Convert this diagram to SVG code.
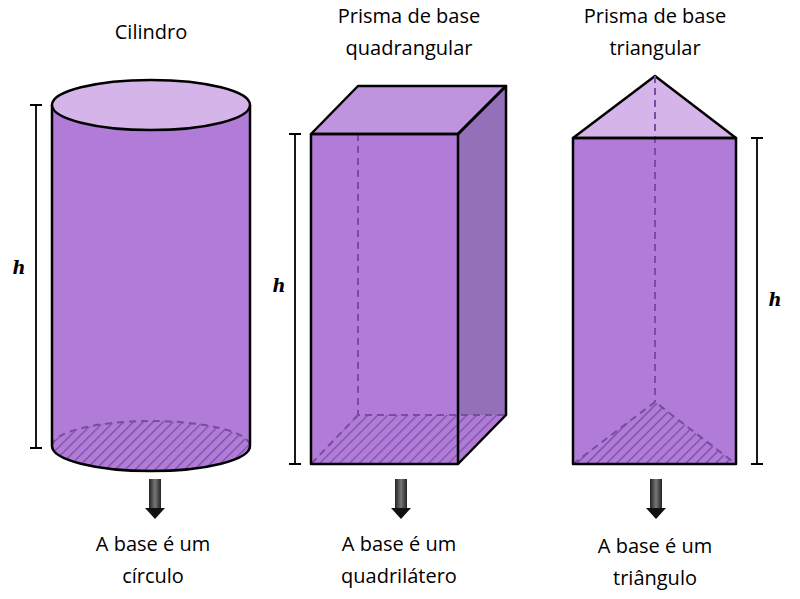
<svg xmlns="http://www.w3.org/2000/svg" width="800" height="599" viewBox="0 0 800 599">
<defs>
<pattern id="hatch" width="7" height="7" patternUnits="userSpaceOnUse" patternTransform="rotate(45)">
<rect width="7" height="7" fill="#b07cd8"/><line x1="0" y1="0" x2="0" y2="7" stroke="#7a4ba0" stroke-width="2.5"/>
</pattern>
<linearGradient id="ag" x1="0" x2="1"><stop offset="0" stop-color="#222"/><stop offset="0.5" stop-color="#777"/><stop offset="1" stop-color="#222"/></linearGradient>
<g id="arrow"><rect x="-6" y="0" width="12" height="30" fill="url(#ag)"/><path d="M-10,29 L10,29 L0,40 Z" fill="#111"/></g>
</defs>
<style>
.t{font-family:"Open Sans","Liberation Sans",sans-serif;font-size:20px;fill:#000;text-anchor:middle}
.h{font-family:"DejaVu Serif","Liberation Serif",serif;font-style:italic;font-weight:bold;font-size:18px;text-anchor:middle}
.e{stroke:#000;stroke-width:2.5;stroke-linejoin:round}
.d{stroke:#7a4ba0;stroke-width:2;stroke-dasharray:7,5;fill:none}
.dim{stroke:#000;stroke-width:1.8;fill:none}
</style>
<rect width="800" height="599" fill="#fff"/>
<g id="cilindro">
<text class="t" x="151" y="39">Cilindro</text>
<rect x="52" y="105" width="198" height="341" fill="#b07cd8"/>
<ellipse cx="151" cy="446" rx="99" ry="25" fill="url(#hatch)"/>
<path d="M52,446 A99,25 0 0,1 250,446" class="d"/>
<path d="M52,105 L52,446 A99,25 0 0,0 250,446 L250,105" class="e" fill="none"/>
<ellipse cx="151" cy="105" rx="99" ry="25" fill="#d5b5e9" class="e"/>
<path d="M30,105 H42 M36,105 V448 M30,448 H42" class="dim"/>
<text class="h" x="19" y="274">h</text>
<use href="#arrow" x="155" y="479"/>
<text class="t" x="153" y="551">A base é um</text>
<text class="t" x="153" y="583">círculo</text>
</g>
<g id="prisma-quadrangular">
<text class="t" x="409" y="23">Prisma de base</text>
<text class="t" x="409" y="55">quadrangular</text>
<rect x="311" y="134" width="147" height="330" fill="#b07cd8"/>
<polygon points="458,134 506,86 506,415 458,464" fill="#9470b8"/>
<polygon points="311,464 358,415 506,415 458,464" fill="url(#hatch)" opacity="0.9"/>
<path d="M358,86 V415 H506 M358,415 L311,464" class="d"/>
<polygon points="311,134 358,86 506,86 458,134" fill="#bf94df" class="e"/>
<path d="M311,134 H458 V464 H311 Z M458,134 L506,86 V415 L458,464" class="e" fill="none"/>
<path d="M289,134 H301 M295,134 V464 M289,464 H301" class="dim"/>
<text class="h" x="279" y="292">h</text>
<use href="#arrow" x="401" y="479"/>
<text class="t" x="399" y="551">A base é um</text>
<text class="t" x="399" y="583">quadrilátero</text>
</g>
<g id="prisma-triangular">
<text class="t" x="655" y="23">Prisma de base</text>
<text class="t" x="655" y="55">triangular</text>
<rect x="573" y="138" width="163" height="326" fill="#b07cd8"/>
<polygon points="573,464 655,402 736,464" fill="url(#hatch)"/>
<path d="M655,76 V402 M573,464 L655,402 L736,464" class="d"/>
<polygon points="573,138 655,76 736,138" fill="#d5b5e9" class="e"/>
<path d="M655,76 V138" class="d" stroke="#a47cc8"/>
<rect x="573" y="138" width="163" height="326" class="e" fill="none"/>
<path d="M751,138 H763 M757,138 V464 M751,464 H763" class="dim"/>
<text class="h" x="775" y="306">h</text>
<use href="#arrow" x="656" y="479"/>
<text class="t" x="655" y="553">A base é um</text>
<text class="t" x="655" y="585">triângulo</text>
</g>
</svg>
